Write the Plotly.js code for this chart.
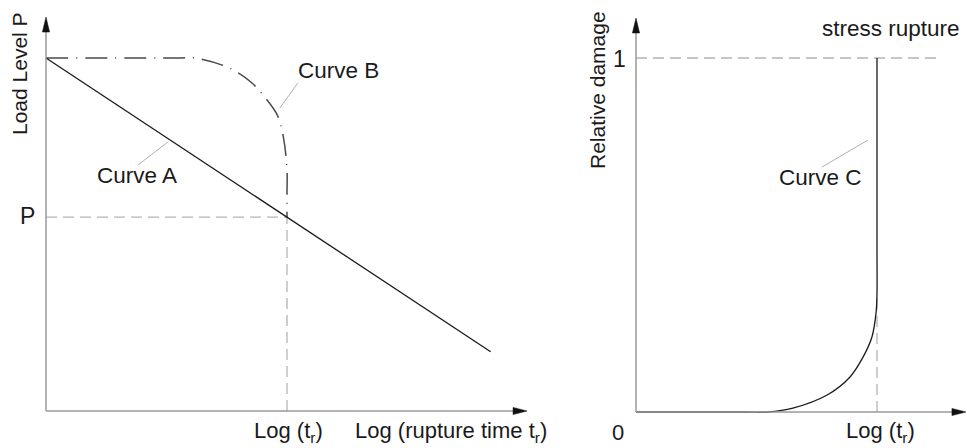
<!DOCTYPE html>
<html>
<head>
<meta charset="utf-8">
<script src="https://cdn.plot.ly/plotly-3.0.1.min.js"></script>
<style>html,body{margin:0;padding:0;background:#fff;}#chart{width:967px;height:448px;}</style>
</head>
<body>
<div id="chart"></div>
<script>
// ---- Data (normalised: t_r = 1, top load level = 1, rupture damage = 1) ----
const curveA_x = [0, 1.845];
const curveA_y = [1.0, 0.168];

const curveB_x = [0, 0.55, 0.62, 0.76, 0.85, 0.91, 0.96, 0.985, 1.0, 1.0, 1.0];
const curveB_y = [1.0, 1.0, 1.0, 0.972, 0.932, 0.887, 0.838, 0.776, 0.683, 0.62, 0.549];

const curveC_x = [0, 0.45, 0.548, 0.651, 0.793, 0.888, 0.942, 0.979, 0.996, 1.0, 1.0, 1.0];
const curveC_y = [0, 0, 0, 0.011, 0.048, 0.099, 0.155, 0.212, 0.280, 0.336, 0.45, 1.0];

const loadP = 0.549;        // load level P
const logTr = 1.0;          // Log(t_r)
const damageTop = 1.0;      // stress rupture damage
const damageAtTr = 0.336;   // where curve C turns vertical
const guideRightEnd = 1.249;
const leftAxisEnd = [1.996, 1.116];   // x tip, y tip (left panel, data units)
const rightAxisEnd = [1.369, 1.113];  // x tip, y tip (right panel, data units)

const leftYTickText = ['P'];
const rightYTickText = ['1'];
const xTickText = ['Log (t<sub>r</sub>)'];
const originText = '0';
const leftYTitle = 'Load Level P';
const leftXTitle = 'Log (rupture time t<sub>r</sub>)';
const rightYTitle = 'Relative damage';
const rightTopText = 'stress rupture';
const curveNames = ['Curve A', 'Curve B', 'Curve C'];

// ---- Geometry (pixels) ----
const W = 967, H = 448;
const SPLIT = 580;
const panels = {
  left:  {xa: 'x',  ya: 'y',  ox: 46,  oy: 411, ux: 241, uy: 353, d0: 0, d1: SPLIT},
  right: {xa: 'x2', ya: 'y2', ox: 636, oy: 412, ux: 241, uy: 354, d0: SPLIT, d1: W}
};
function xr(p) { return [(p.d0 - p.ox) / p.ux, (p.d1 - p.ox) / p.ux]; }
function yr(p) { return [(p.oy - H) / p.uy, p.oy / p.uy]; }

// ---- Styling ----
const FONT = "'Liberation Sans', Arial, sans-serif";
const TXT = '#1a1a1a';
const GUIDE = '#b4b4b4';
const AXIS = '#9a9a9a';
const px = v => v / W;
const py = v => 1 - v / H;

const guideStyle = {color: GUIDE, width: 1.3, dash: '11px,6px'};

const traces = [
  {x: [0, logTr], y: [loadP, loadP], xaxis: 'x', yaxis: 'y', mode: 'lines', line: guideStyle, hoverinfo: 'skip'},
  {x: [logTr, logTr], y: [0, loadP], xaxis: 'x', yaxis: 'y', mode: 'lines', line: guideStyle, hoverinfo: 'skip'},
  {x: [0, guideRightEnd], y: [damageTop, damageTop], xaxis: 'x2', yaxis: 'y2', mode: 'lines', line: guideStyle, hoverinfo: 'skip'},
  {x: [logTr, logTr], y: [0, damageAtTr], xaxis: 'x2', yaxis: 'y2', mode: 'lines', line: guideStyle, hoverinfo: 'skip'},
  {x: curveB_x, y: curveB_y, xaxis: 'x', yaxis: 'y', mode: 'lines',
   line: {color: '#4a4a4a', width: 1.5, dash: '22px,8px,1px,8px', shape: 'spline', smoothing: 1}, hoverinfo: 'skip'},
  {x: curveA_x, y: curveA_y, xaxis: 'x', yaxis: 'y', mode: 'lines',
   line: {color: '#1a1a1a', width: 1.3}, hoverinfo: 'skip'},
  {x: curveC_x, y: curveC_y, xaxis: 'x2', yaxis: 'y2', mode: 'lines',
   line: {color: '#1a1a1a', width: 1.3, shape: 'spline', smoothing: 1}, hoverinfo: 'skip'}
];

const f = (size) => ({family: FONT, size: size, color: TXT});
function label(x, y, text, size, extra) {
  return Object.assign({xref: 'paper', yref: 'paper', x: px(x), y: py(y), text: text,
    xanchor: 'center', yanchor: 'middle', showarrow: false, font: f(size)}, extra || {});
}

const annotations = [
  label(20, 74, leftYTitle, 21, {textangle: -90}),
  label(37, 216, leftYTickText[0], 23, {xanchor: 'right'}),
  label(288, 432, xTickText[0], 22),
  label(353, 432, leftXTitle, 22, {xanchor: 'left'}),
  label(137, 175, curveNames[0], 22.5),
  label(338, 71, curveNames[1], 22.5),
  label(597, 90, rightYTitle, 21, {textangle: -90}),
  label(619, 59, rightYTickText[0], 23),
  label(618, 432, originText, 22),
  label(880, 432, xTickText[0], 22),
  label(891, 28, rightTopText, 22.5),
  label(820, 177, curveNames[2], 22.5)
];

// leader line from a point on a curve (data) to a pixel offset
function leader(p, x, y, dxPx, dyPx) {
  return {type: 'line', xref: p.xa, yref: p.ya, x0: x, y0: y, x1: x + dxPx / p.ux, y1: y - dyPx / p.uy,
          line: {color: '#b0b0b0', width: 1}};
}

function axisShapes(p, end) {
  const hx = 14 / p.ux, hw = 3.6 / p.uy;   // x-axis head (length, half width)
  const vy = 15 / p.uy, vw = 3.6 / p.ux;   // y-axis head
  return [
    {type: 'line', xref: p.xa, yref: p.ya, x0: 0, y0: 0, x1: end[0] - hx, y1: 0, line: {color: AXIS, width: 1.5}},
    {type: 'line', xref: p.xa, yref: p.ya, x0: 0, y0: 0, x1: 0, y1: end[1] - vy, line: {color: AXIS, width: 1.5}},
    {type: 'path', xref: p.xa, yref: p.ya,
     path: `M ${end[0]} 0 L ${end[0] - hx} ${hw} L ${end[0] - hx} ${-hw} Z`,
     fillcolor: '#111', line: {color: '#111', width: 0.5}},
    {type: 'path', xref: p.xa, yref: p.ya,
     path: `M 0 ${end[1]} L ${vw} ${end[1] - vy} L ${-vw} ${end[1] - vy} Z`,
     fillcolor: '#111', line: {color: '#111', width: 0.5}}
  ];
}

const shapes = [].concat(
  axisShapes(panels.left, leftAxisEnd),
  axisShapes(panels.right, rightAxisEnd),
  [
    leader(panels.left, 0.506, 0.762, -30, 23),
    leader(panels.left, 0.970, 0.858, 18, -25),
    leader(panels.right, 0.962, 0.768, -46, 27)
  ]
);

const hidden = {visible: false, showgrid: false, zeroline: false, fixedrange: true};

const layout = {
  width: W, height: H,
  margin: {l: 0, r: 0, t: 0, b: 0},
  paper_bgcolor: '#fff', plot_bgcolor: 'rgba(0,0,0,0)',
  showlegend: false,
  xaxis: Object.assign({}, hidden, {domain: [0, SPLIT / W], range: xr(panels.left), anchor: 'y'}),
  yaxis: Object.assign({}, hidden, {domain: [0, 1], range: yr(panels.left), anchor: 'x'}),
  xaxis2: Object.assign({}, hidden, {domain: [SPLIT / W, 1], range: xr(panels.right), anchor: 'y2'}),
  yaxis2: Object.assign({}, hidden, {domain: [0, 1], range: yr(panels.right), anchor: 'x2'}),
  annotations: annotations,
  shapes: shapes
};

Plotly.newPlot('chart', traces, layout, {staticPlot: true, displayModeBar: false});
</script>
</body>
</html>
